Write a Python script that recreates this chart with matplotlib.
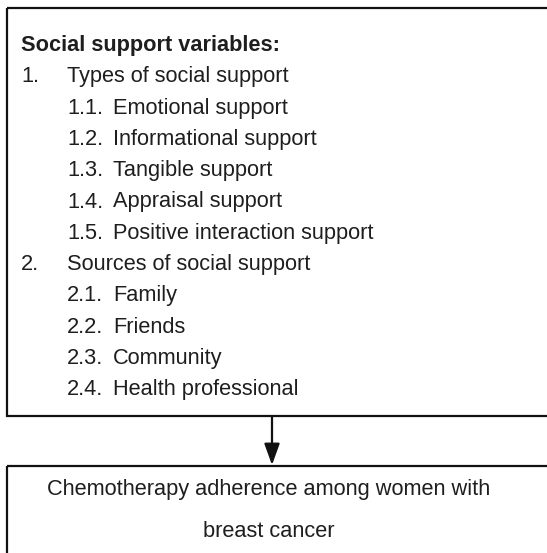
import matplotlib.pyplot as plt
from matplotlib.patches import Rectangle

# Texto del diagrama
titulo = 'Social support variables:'
grupos = ['Types of social support', 'Sources of social support']
num_grupos = ['1.', '2.']
items = [
    ['Emotional support', 'Informational support', 'Tangible support',
     'Appraisal support', 'Positive interaction support'],
    ['Family', 'Friends', 'Community', 'Health professional'],
]
resultado = ['Chemotherapy adherence among women with', 'breast cancer']

W, H = 547, 553
fig = plt.figure(figsize=(W / 100, H / 100), dpi=100)
ax = fig.add_axes([0, 0, 1, 1])
ax.set_xlim(0, W)
ax.set_ylim(H, 0)
ax.axis('off')

plt.rcParams['font.family'] = ['Liberation Sans', 'DejaVu Sans']
fs = 15.7
col = '#1e1e1e'
lw = 1.6

# Cajas (se salen por la derecha como en el original)
ax.add_patch(Rectangle((7, 8), 600, 408, fill=False, lw=lw, ec='#111111'))
ax.add_patch(Rectangle((7, 466), 600, 200, fill=False, lw=lw, ec='#111111'))

# Lista de variables
x0, x1, x2 = 21, 67, 113
y = 51
paso = 31.3
ax.text(x0, y, titulo, fontsize=fs, fontweight='bold', color=col, va='baseline')
for g in range(len(grupos)):
    y += paso
    ax.text(x0, y, num_grupos[g], fontsize=fs, color=col, va='baseline')
    ax.text(x1, y, grupos[g], fontsize=fs, color=col, va='baseline')
    for i, it in enumerate(items[g]):
        y += paso
        ax.text(x1, y, f'{g + 1}.{i + 1}.', fontsize=fs, color=col, va='baseline')
        ax.text(x2, y, it, fontsize=fs, color=col, va='baseline')

# Flecha
xa = 272
ax.annotate('', xy=(xa, 465), xytext=(xa, 416),
            arrowprops=dict(arrowstyle='-|>,head_length=1.3,head_width=0.47',
                            mutation_scale=10, lw=lw, color='#111111',
                            shrinkA=0, shrinkB=0))

# Caja de resultado
ax.text(269, 495, resultado[0], fontsize=fs, color=col, ha='center', va='baseline')
ax.text(269, 537, resultado[1], fontsize=fs, color=col, ha='center', va='baseline')

fig.savefig('out.png', dpi=100)
